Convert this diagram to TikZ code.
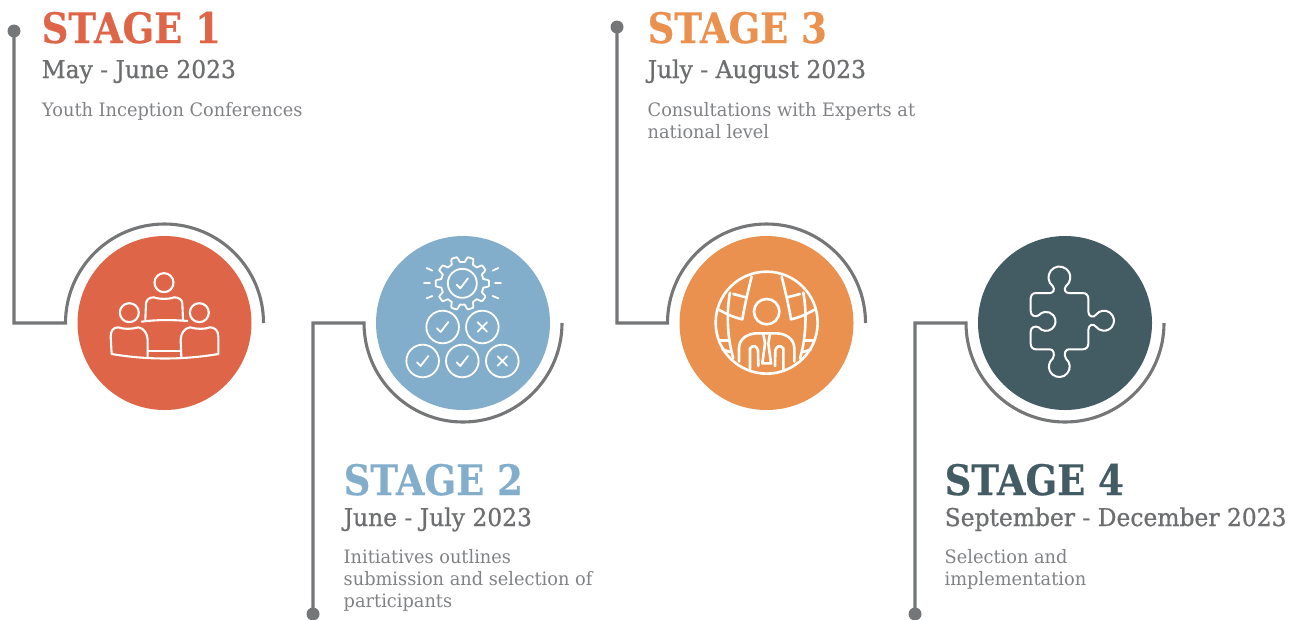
\documentclass[tikz,border=0pt]{standalone}
\usepackage{fontspec}
\setmainfont{DejaVu Serif}
\newfontfamily\titlefont[FakeStretch=0.88,FakeBold=0.5]{DejaVu Serif Bold}
\newfontfamily\datefont[FakeStretch=0.955,FakeBold=0.8]{DejaVu Serif}
\newfontfamily\bodyfont[FakeStretch=0.96]{DejaVu Serif}
\definecolor{cred}{HTML}{DF6548}
\definecolor{cblue}{HTML}{82ADCB}
\definecolor{corange}{HTML}{EA9150}
\definecolor{cdark}{HTML}{435B63}
\definecolor{cline}{HTML}{757678}
\definecolor{cdate}{HTML}{6D6E70}
\definecolor{cbody}{HTML}{808285}
\tikzset{
  disc/.style={circle,fill=#1,draw=none,minimum size=174pt,inner sep=0pt},
  pin/.style={circle,fill=cline,draw=none,minimum size=13pt,inner sep=0pt},
  wire/.style={draw=cline,line width=3.1pt},
  title/.style={anchor=base west,inner sep=0pt,text=#1,font=\titlefont\fontsize{42}{42}\selectfont},
  dateline/.style={anchor=base west,inner sep=0pt,text=cdate,font=\datefont\fontsize{24.5}{26}\selectfont},
  bodytext/.style={anchor=base west,inner sep=0pt,text=cbody,align=left,font=\bodyfont\fontsize{18.5}{22}\selectfont},
  icon/.style={draw=white,line width=2.1pt,line join=round,line cap=round},
  zoomed/.style={shift={#1},x=0.3333pt,y=-0.3333pt}
}
\begin{document}
\begin{tikzpicture}[x=1pt,y=-1pt]
\useasboundingbox (0,0) rectangle (1297,619);
% discs
\node[disc=cred] (d1) at (164.5,323) {};
\node[disc=cblue] (d2) at (463,323) {};
\node[disc=corange] (d3) at (766.5,323) {};
\node[disc=cdark] (d4) at (1065,323) {};
% pins
\node[pin] (p1) at (14,31) {};
\node[pin] (p2) at (313,614) {};
\node[pin] (p3) at (617,27) {};
\node[pin] (p4) at (915,614) {};
% arc starts
\coordinate (a1) at (65.5,323);
\coordinate (a2) at (364,323);
\coordinate (a3) at (667.5,323);
\coordinate (a4) at (966,323);
% connectors
\draw[wire] (p1.center) |- (a1) arc[start angle=180,end angle=0,radius=99pt];
\draw[wire] (p2.center) |- (a2) arc[start angle=180,end angle=360,radius=99pt];
\draw[wire] (p3.center) |- (a3) arc[start angle=180,end angle=0,radius=99pt];
\draw[wire] (p4.center) |- (a4) arc[start angle=180,end angle=360,radius=99pt];
% texts
\node[title=cred] (t1) at (41.5,43) {STAGE 1};
\node[dateline] (m1) at (41.5,78) {May - June 2023};
\node[bodytext] (b1) at (42,116) {Youth Inception Conferences};
\node[title=cblue] (t2) at (343.5,495) {STAGE 2};
\node[dateline] (m2) at (343.5,526) {June - July 2023};
\node[bodytext] (b2) at (343.5,607) {Initiatives outlines\\submission and selection of\\participants};
\node[title=corange] (t3) at (647.5,43) {STAGE 3};
\node[dateline] (m3) at (647.5,78) {July - August 2023};
\node[bodytext] (b3) at (647.5,138) {Consultations with Experts at\\national level};
\node[title=cdark] (t4) at (944.5,495) {STAGE 4};
\node[dateline] (m4) at (944.5,526) {September - December 2023};
\node[bodytext] (b4) at (944.5,585) {Selection and\\implementation};
% icon 1: meeting
\begin{scope}[zoomed={(60,220)},icon]
\draw (312,188) circle[radius=9.5pt];
\draw (208,278) circle[radius=9.5pt];
\draw (418,278) circle[radius=9.5pt];
\draw (256,300) -- (258,250) .. controls (259,238) and (270,232) .. (282,232) .. controls (295,238) and (330,238) .. (342,232) .. controls (355,232) and (366,238) .. (367,250) -- (369,300);
\draw (245,305) .. controls (290,299) and (335,299) .. (382,303);
\draw (155,402) -- (152,350) .. controls (152,332) and (160,322) .. (175,322) .. controls (190,328) and (215,328) .. (235,322) .. controls (252,325) and (262,340) .. (263,360) -- (263,410);
\draw (475,402) -- (475,350) .. controls (475,332) and (465,322) .. (450,322) .. controls (435,328) and (410,328) .. (390,322) .. controls (372,325) and (363,340) .. (362,360) -- (364,410);
\draw (155,402) .. controls (260,420) and (370,420) .. (475,402);
\draw (263,394) -- (363,394);
\end{scope}
% icon 2: gear and decisions
\begin{scope}[zoomed={(370,230)},icon,line width=1.8pt]
\draw plot[domain=0:360,samples=181] ({277+(72+8*max(min(2.5*cos(10*\x),1),-1))*cos(\x)},{160+(72+8*max(min(2.5*cos(10*\x),1),-1))*sin(\x)}) -- cycle;
\foreach \cx/\cy/\rr in {277/160/14.5pt,218/291/16.3pt,337/291/16.3pt,158/393/16.3pt,277/393/16.3pt,397/393/16.3pt}
  \draw (\cx,\cy) circle[radius=\rr];
\foreach \cx/\cy in {277/160,218/291,158/393,277/393}
  \draw (\cx-17,\cy+4) -- (\cx-6,\cy+15) -- (\cx+17,\cy-15);
\foreach \cx/\cy in {337/291,397/393}{
  \draw (\cx-14,\cy-14) -- (\cx+14,\cy+14);
  \draw (\cx-14,\cy+14) -- (\cx+14,\cy-14);
}
\draw (162,159) -- (180,159);
\draw (170,114) -- (187,122);
\draw (170,205) -- (187,198);
\draw (375,159) -- (393,159);
\draw (368,122) -- (385,114);
\draw (368,198) -- (385,205);
\end{scope}
% icon 3: globe and person
\begin{scope}[zoomed={(670,230)},icon,line width=2.6pt]
\draw (290,278) circle[radius=51pt];
\draw (290,245) circle[radius=12.7pt];
\draw (207,395) -- (207,355) .. controls (207,325) and (235,310) .. (262,310) -- (318,310) .. controls (345,310) and (373,325) .. (373,355) -- (373,395);
\draw (240,418) -- (240,355) .. controls (250,342) and (262,350) .. (264,362) -- (265,408);
\draw (340,418) -- (340,355) .. controls (330,342) and (318,350) .. (316,362) -- (315,408);
\draw (280,312) -- (285,340) -- (277,400) -- (303,400) -- (295,340) -- (300,312);
\draw (245,140) .. controls (235,180) and (225,220) .. (217,268) .. controls (190,262) and (165,250) .. (145,238);
\draw (335,140) .. controls (345,180) and (355,220) .. (363,268) .. controls (390,262) and (415,250) .. (435,238);
\draw (180,188) .. controls (170,240) and (170,320) .. (190,385);
\draw (400,188) .. controls (410,240) and (410,320) .. (390,385);
\draw (190,192) -- (228,202);
\draw (390,192) -- (352,202);
\draw (150,332) -- (176,332);
\draw (430,332) -- (404,332);
\draw (157,358) -- (180,366);
\draw (423,358) -- (400,366);
\end{scope}
% icon 4: puzzle
\begin{scope}[zoomed={(1000,250)},icon,line width=2pt]
\draw (108,129) -- (150,129) .. controls (160,129) and (166,118) .. (158,108)
  arc[start angle=232,end angle=-52,radius=10.9pt]
  .. controls (190,118) and (196,129) .. (206,129) -- (248,129)
  .. controls (258,129) and (265,136) .. (265,146) -- (265,185)
  .. controls (265,200) and (280,205) .. (288,194)
  arc[start angle=143,end angle=-143,radius=10pt]
  .. controls (280,219) and (265,224) .. (265,240) -- (265,281)
  .. controls (265,291) and (258,298) .. (248,298) -- (206,298)
  .. controls (196,298) and (190,312) .. (198,326)
  arc[start angle=50,end angle=-230,radius=10.4pt]
  .. controls (166,312) and (160,298) .. (150,298) -- (108,298)
  .. controls (98,298) and (92,291) .. (92,281) -- (92,245)
  .. controls (92,232) and (105,226) .. (116,232)
  arc[start angle=-141,end angle=141,radius=9.5pt]
  .. controls (105,202) and (92,197) .. (92,183) -- (92,146)
  .. controls (92,136) and (98,129) .. (108,129) -- cycle;
\end{scope}
\end{tikzpicture}
\end{document}
